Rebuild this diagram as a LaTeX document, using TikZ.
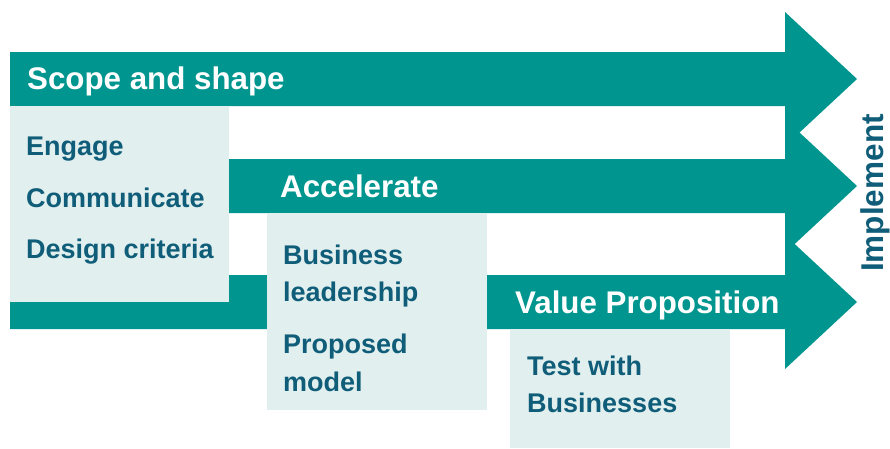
\documentclass[tikz,border=0pt]{standalone}
\usepackage{fontspec}
\setmainfont{Liberation Sans}
\usepackage{tikz}
\definecolor{bandteal}{RGB}{0,150,143}
\definecolor{padgrey}{RGB}{225,239,239}
\definecolor{itemblue}{RGB}{15,93,120}
\tikzset{
  band/.style={fill=bandteal, draw=none},
  pad/.style={fill=padgrey, draw=none},
  stage/.style={anchor=base west, inner sep=0pt, text=white, font=\bfseries\fontsize{31.3}{31.3}\selectfont},
  item/.style={anchor=base west, inner sep=0pt, text=itemblue, font=\bfseries\fontsize{27}{27}\selectfont}
}
\begin{document}
\begin{tikzpicture}[x=1pt,y=-1pt]
%%Location
\useasboundingbox (0,0) rectangle (890,448);
%%Arrows
\fill[band] (10,52)--(785,52)--(785,12)--(857,79)--(785,146)--(785,106)--(10,106)--cycle;
\fill[band] (229,159)--(785,159)--(785,119)--(857,186)--(785,253)--(785,213)--(229,213)--cycle;
\fill[band] (10,275)--(785,275)--(785,235)--(857,302)--(785,369)--(785,329)--(10,329)--cycle;
%%Boxes
\fill[pad] (10,106) rectangle (229,302);
\fill[pad] (267,213) rectangle (487,410);
\fill[pad] (510,329) rectangle (730,448);
%%Label
\node[stage] (scope) at (27,89) {Scope and shape};
\node[stage] (accel) at (280,197) {Accelerate};
\node[stage] (value) at (515,313) {Value Proposition};
\node[item] (engage) at (26,155) {Engage};
\node[item] (comm) at (26,207) {Communicate};
\node[item] (design) at (26,258) {Design criteria};
\node[item] (bus) at (283,264) {Business};
\node[item] (lead) at (283,301) {leadership};
\node[item] (prop) at (283,353) {Proposed};
\node[item] (model) at (283,391) {model};
\node[item] (test) at (527,375) {Test with};
\node[item] (busin) at (527,412) {Businesses};
\node[anchor=base, inner sep=0pt, rotate=90, text=itemblue, font=\bfseries\fontsize{31.5}{31.5}\selectfont] (impl) at (883,193) {Implement};
\end{tikzpicture}
\end{document}
